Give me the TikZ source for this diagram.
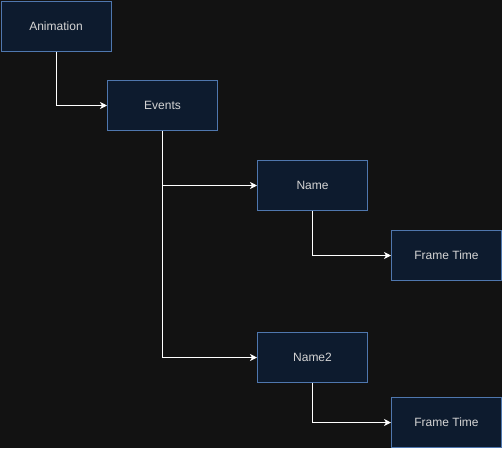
\documentclass[tikz,border=0pt]{standalone}
\usepackage{fontspec}
\setmainfont{Liberation Sans}
\usetikzlibrary{arrows.meta}
\definecolor{bg}{HTML}{121212}
\definecolor{boxfill}{HTML}{0D1B2E}
\definecolor{boxline}{HTML}{4F77AE}
\definecolor{txt}{HTML}{D4D4D4}
\begin{document}
\begin{tikzpicture}[x=1pt,y=-1pt,
  box/.style={draw=boxline,fill=boxfill,line width=1pt,minimum width=110pt,minimum height=50pt,inner sep=0pt,anchor=north west,text=txt,font=\fontsize{12}{14}\selectfont},
  conn/.style={draw=white,line width=1pt,-{Stealth[length=7pt,width=7pt,inset=2pt]}}]
\fill[bg] (0,0) rectangle (502,448);
\useasboundingbox (0,0) rectangle (502,448);
\node[box] (anim) at (0.5,0.5) {Animation};
\node[box] (ev) at (107,80) {Events};
\node[box] (n1) at (257,160) {Name};
\node[box] (f1) at (391,230) {Frame Time};
\node[box] (n2) at (257,332) {Name2};
\node[box] (f2) at (391,397) {Frame Time};
\draw[conn] (anim.south) |- (ev.west);
\draw[conn] (ev.south) |- (n1.west);
\draw[conn] (ev.south) |- (n2.west);
\draw[conn] (n1.south) |- (f1.west);
\draw[conn] (n2.south) |- (f2.west);
\end{tikzpicture}
\end{document}
